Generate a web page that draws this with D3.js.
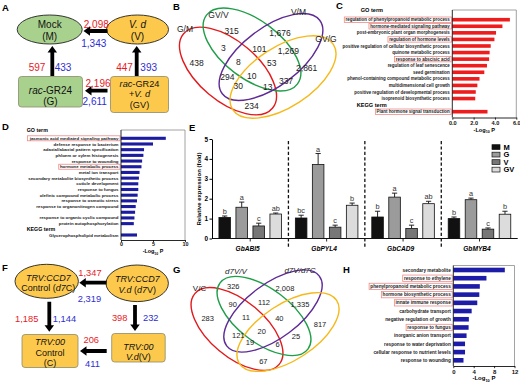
<!DOCTYPE html>
<html><head><meta charset="utf-8">
<script src="https://cdn.jsdelivr.net/npm/d3@7"></script>
<style>body{margin:0;background:#fff}svg{display:block}</style>
</head><body><svg id="c" width="520" height="382"></svg>
<script>
// ================= DATA =================
// Panel A: DEG counts (up = red, down = blue)
const aUp = [2098, 597, 447, 2196];     // V->M, G->M, GV->V, GV->G
const aDown = [1343, 433, 393, 2611];
// Panel F
const fUp = [1347, 1185, 398, 206];     // d7V->d7C, d7C->C, d7V->V, V->C
const fDown = [2319, 1144, 232, 411];
// Panel B Venn
const vennBSets = ["G/M", "GV/V", "V/M", "GV/G"];
const vennBCounts = [438, 315, 1676, 2861, 3, 101, 1269, 8, 53, 294, 10, 337, 30, 13, 234];
// Panel G Venn
const vennGSets = ["V/C", "d7V/V", "d7V/d7C", ""];
const vennGCounts = [283, 326, 2008, 817, 90, 112, 1335, 11, 40, 121, 20, 25, 19, 6, 67];
// Panel C GO / KEGG
const goC = ["regulation of phenylpropanoid metabolic process", "hormone-mediated signaling pathway",
  "post-embryonic plant organ morphogenesis", "regulation of hormone levels",
  "positive regulation of cellular biosynthetic process", "quinone metabolic process",
  "response to abscisic acid", "regulation of leaf senescence", "seed germination",
  "phenol-containing compound metabolic process", "multidimensional cell growth",
  "positive regulation of developmental process", "isoprenoid biosynthetic process"];
const goCValues = [5.4, 4.7, 4.1, 3.95, 3.6, 3.5, 3.45, 3.25, 3.0, 2.55, 2.35, 2.2, 2.15];
const goCBoxed = [0, 1, 3, 6];
const keggC = ["Plant hormone signal transduction"];
const keggCValues = [3.3];
const keggCBoxed = [0];
// Panel D GO / KEGG
const goD = ["jasmonic acid mediated signaling pathway", "defense response to bacterium",
  "adaxial/abaxial pattern specification", "phloem or xylem histogenesis", "response to wounding",
  "hormone metabolic process", "metal ion transport", "secondary metabolite biosynthetic process",
  "cuticle development", "response to fungus", "olefinic compound metabolic process",
  "response to osmotic stress", "response to organonitrogen compound", "",
  "response to organic cyclic compound", "protein autophosphorylation"];
const goDValues = [7.0, 5.0, 3.6, 3.5, 3.3, 3.2, 2.9, 2.8, 2.7, 2.7, 2.6, 2.5, 2.3, 2.2, 2.1, 2.0];
const goDBoxed = [0, 5];
const keggD = ["Glycerophospholipid metabolism"];
const keggDValues = [2.5];
// Panel H GO
const goH = ["secondary metabolite", "response to ethylene", "phenylpropanoid metabolic process",
  "hormone biosynthetic process", "innate immune response", "carbohydrate transport",
  "negative regulation of growth", "response to fungus", "inorganic anion transport",
  "response to water deprivation", "cellular response to nutrient levels", "response to wounding"];
const goHValues = [10.1, 6.5, 5.2, 5.1, 4.7, 3.6, 3.05, 3.0, 2.6, 2.3, 2.3, 2.0];
const goHBoxed = [1, 2, 3, 4, 7];
// Panel E qRT-PCR
const genes = ["GbABI5", "GbPYL4", "GbCAD9", "GbMYB4"];
const groups = ["M", "G", "V", "GV"];
const meanM = [1.06, 1.03, 1.08, 1.0];
const meanG = [1.57, 3.72, 2.08, 1.95];
const meanV = [0.63, 0.57, 0.50, 0.47];
const meanGV = [1.23, 1.67, 1.75, 1.22];
const errM = [0.07, 0.14, 0.29, 0.08];
const errG = [0.26, 0.55, 0.20, 0.08];
const errV = [0.14, 0.10, 0.17, 0.06];
const errGV = [0.05, 0.11, 0.12, 0.15];
const letM = ["b", "bc", "b", "b"];
const letG = ["a", "a", "a", "a"];
const letV = ["c", "c", "c", "c"];
const letGV = ["ab", "b", "ab", "b"];
const eTicks = [0, 1, 2, 3, 4, 5];

// ================= DRAWING =================
const FONT = "'Liberation Sans', Arial, Helvetica, sans-serif";
const RED = "#e8191f", BLUE = "#2d2dd2";
const svg = d3.select("#c").style("font-family", FONT);
svg.append("rect").attr("width", 520).attr("height", 382).attr("fill", "#fff");
const fmt = d3.format(",");

function rich(g, x, y, parts, o = {}) {
  const t = g.append("text").attr("x", x).attr("y", y)
    .attr("text-anchor", o.anchor || "middle").attr("font-size", o.fs || 10)
    .attr("fill", o.fill || "#111").attr("font-weight", o.weight || "normal");
  parts.forEach(p => {
    const s = t.append("tspan").text(p[0]);
    if (p[1]) s.attr("font-style", "italic");
  });
  return t;
}
function arrow(g, x1, y1, x2, y2, sw = 3.8, hw = 9.5, hl = 6.5) {
  const dx = x2 - x1, dy = y2 - y1, L = Math.hypot(dx, dy), ux = dx / L, uy = dy / L, px = -uy, py = ux;
  const bx = x2 - ux * hl, by = y2 - uy * hl;
  const pts = [[x1 + px * sw / 2, y1 + py * sw / 2], [bx + px * sw / 2, by + py * sw / 2],
    [bx + px * hw / 2, by + py * hw / 2], [x2, y2], [bx - px * hw / 2, by - py * hw / 2],
    [bx - px * sw / 2, by - py * sw / 2], [x1 - px * sw / 2, y1 - py * sw / 2]];
  g.append("path").attr("d", d3.line()(pts) + "Z").attr("fill", "#000");
}
function num(g, x, y, v, color, fs) {
  g.append("text").attr("x", x).attr("y", y).attr("text-anchor", "middle")
    .attr("font-size", fs).attr("fill", color).text(fmt(v));
}

// panel letters
[["A", 2, 11], ["B", 173, 10], ["C", 336, 9], ["D", 2, 130], ["E", 189, 131], ["F", 2, 271], ["G", 173, 273], ["H", 343, 273]]
  .forEach(d => svg.append("text").attr("x", d[1]).attr("y", d[2]).attr("font-size", 9.5)
    .attr("font-weight", "bold").text(d[0]));

// ---------- Panel A ----------
const GREEN_F = "#a9d18e", YEL_F = "#fdc94c";
{
  const g = svg.append("g");
  g.append("ellipse").attr("cx", 49.7).attr("cy", 29.5).attr("rx", 32.5).attr("ry", 14.5).attr("fill", GREEN_F).attr("stroke", "#222").attr("stroke-width", 0.9);
  g.append("ellipse").attr("cx", 137.5).attr("cy", 29.5).attr("rx", 31).attr("ry", 14.5).attr("fill", YEL_F).attr("stroke", "#222").attr("stroke-width", 0.9);
  g.append("rect").attr("x", 18.5).attr("y", 76.5).attr("width", 64).attr("height", 30.5).attr("rx", 3).attr("fill", GREEN_F).attr("stroke", "#8a8a6a").attr("stroke-width", 0.8);
  g.append("rect").attr("x", 110.5).attr("y", 76.5).attr("width", 58).attr("height", 36).attr("rx", 3).attr("fill", YEL_F).attr("stroke", "#8a8a6a").attr("stroke-width", 0.8);
  rich(g, 49.7, 28, [["Mock"]], { fs: 10 });
  rich(g, 49.7, 39.5, [["(M)"]], { fs: 10 });
  rich(g, 137.5, 28, [["V. d", 1]], { fs: 10 });
  rich(g, 137.5, 39.5, [["(V)"]], { fs: 10 });
  rich(g, 50.5, 93.5, [["rac", 1], ["-GR24"]], { fs: 10 });
  rich(g, 50.5, 104.5, [["(G)"]], { fs: 10 });
  rich(g, 139.5, 87.3, [["rac", 1], ["-GR24"]], { fs: 9.2 });
  rich(g, 139.5, 97, [["+"], ["V. d", 1]], { fs: 9.2 });
  rich(g, 139.5, 107.5, [["(GV)"]], { fs: 9.2 });
  arrow(g, 107.5, 31, 83.5, 31);
  arrow(g, 52.3, 76, 52.3, 46);
  arrow(g, 136.7, 76, 136.7, 46);
  arrow(g, 107.5, 90.7, 85, 90.7);
  num(g, 96.3, 28, aUp[0], RED, 10); num(g, 93.8, 46.5, aDown[0], BLUE, 10);
  num(g, 37, 70.5, aUp[1], RED, 10); num(g, 63, 70.5, aDown[1], BLUE, 10);
  num(g, 124.5, 70.5, aUp[2], RED, 10); num(g, 148.7, 70.5, aDown[2], BLUE, 10);
  num(g, 98, 87, aUp[3], RED, 10); num(g, 94.7, 104.5, aDown[3], BLUE, 10);
}

// ---------- Panel F ----------
{
  const g = svg.append("g");
  g.append("ellipse").attr("cx", 46.7).attr("cy", 281.3).attr("rx", 31.7).attr("ry", 17).attr("fill", YEL_F).attr("stroke", "#222").attr("stroke-width", 0.9);
  g.append("ellipse").attr("cx", 137.2).attr("cy", 283.3).attr("rx", 31.2).attr("ry", 18.3).attr("fill", YEL_F).attr("stroke", "#222").attr("stroke-width", 0.9);
  g.append("rect").attr("x", 22).attr("y", 334.5).attr("width", 56).attr("height", 33).attr("rx", 3).attr("fill", YEL_F).attr("stroke", "#8a8a6a").attr("stroke-width", 0.8);
  g.append("rect").attr("x", 111.7).attr("y", 333.5).attr("width", 53.5).attr("height", 28.5).attr("rx", 3).attr("fill", YEL_F).attr("stroke", "#8a8a6a").attr("stroke-width", 0.8);
  rich(g, 48.3, 280.5, [["TRV:CCD7", 1]], { fs: 9 });
  rich(g, 48.3, 291, [["Control ("], ["d7", 1], ["C)"]], { fs: 9 });
  rich(g, 137.3, 282, [["TRV:CCD7", 1]], { fs: 9 });
  rich(g, 137.3, 292.5, [["V.d", 1], [" ("], ["d7", 1], ["V)"]], { fs: 9 });
  rich(g, 50, 345, [["TRV:00", 1]], { fs: 9 });
  rich(g, 50, 355.5, [["Control"]], { fs: 9 });
  rich(g, 50, 365.5, [["(C)"]], { fs: 9 });
  rich(g, 138.3, 350, [["TRV:00", 1]], { fs: 9 });
  rich(g, 138.3, 359.5, [["V.d", 1], ["(V)"]], { fs: 9 });
  arrow(g, 106.5, 282.7, 79.3, 282.7);
  arrow(g, 49.3, 301.7, 49.3, 331.7);
  arrow(g, 135, 305, 135, 331);
  arrow(g, 106.7, 351, 80, 351);
  num(g, 90, 275.5, fUp[0], RED, 9.3); num(g, 89.5, 301.5, fDown[0], BLUE, 9.3);
  num(g, 26.7, 321.5, fUp[1], RED, 9.3); num(g, 64.5, 321.5, fDown[1], BLUE, 9.3);
  num(g, 119.7, 320.5, fUp[2], RED, 9.3); num(g, 150.8, 320.5, fDown[2], BLUE, 9.3);
  num(g, 91.3, 343, fUp[3], RED, 9.3); num(g, 92.5, 367, fDown[3], BLUE, 9.3);
}

// ---------- Venn diagrams ----------
const vennColors = ["#e3191c", "#1f9e48", "#5e2a96", "#f5b91a"];
function venn(g, ell, sets, setPos, counts, pos, fsNum, fsLab, italicLabels) {
  ell.forEach((e, i) => {
    g.append("ellipse").attr("cx", 0).attr("cy", 0).attr("rx", e[2]).attr("ry", e[3])
      .attr("transform", `translate(${e[0]},${e[1]}) rotate(${e[4]})`)
      .attr("fill", "none").attr("stroke", vennColors[i]).attr("stroke-width", 1.4);
  });
  sets.forEach((s, i) => {
    if (!s) return;
    const t = g.append("text").attr("x", setPos[i][0]).attr("y", setPos[i][1]).attr("text-anchor", "middle")
      .attr("font-size", fsLab).attr("fill", "#222").attr("dy", "0.35em").text(s);
    if (italicLabels && i > 0) t.attr("font-style", "italic");
  });
  counts.forEach((c, i) => {
    g.append("text").attr("x", pos[i][0]).attr("y", pos[i][1]).attr("dy", "0.35em")
      .attr("text-anchor", "middle").attr("font-size", fsNum).attr("fill", "#222").text(fmt(c));
  });
}
{
  const g = svg.append("g");
  const ell = [[228, 71, 58, 30, 40], [252, 49.5, 57, 29, 37], [271, 57, 61, 29, -37], [283, 77, 60, 30, -33]];
  const setPos = [[185, 29.5], [218.5, 15], [298.5, 12.5], [326, 39.5]];
  const pos = [[196.7, 63.3], [231.7, 30.7], [280, 33.3], [306.7, 68.3], [223.3, 48.3], [259.3, 49], [288.3, 50.7],
    [238.3, 61.7], [271.7, 62.7], [227.3, 77.3], [251.7, 75.7], [286, 80.7], [238.3, 86], [267.7, 87.3], [251.7, 106]];
  venn(g, ell, vennBSets, setPos, vennBCounts, pos, 8.5, 8.5, false);
}
{
  const g = svg.append("g");
  const ell = [[237, 329, 55, 28, 40], [264, 316, 55, 27, 37], [273, 311, 58, 27, -37], [288, 332, 58, 28, -33]];
  const setPos = [[199.5, 288], [236, 271], [300, 270], [0, 0]];
  const pos = [[207.7, 318.3], [233.3, 286.7], [285, 288.3], [320, 324.3], [232.7, 304.3], [264, 302.7], [300, 304.3],
    [246, 317.7], [279.3, 318.3], [238.3, 335], [261.7, 331], [296, 336.7], [250, 342.7], [277.7, 344.3], [263.3, 361.7]];
  venn(g, ell, vennGSets, setPos, vennGCounts, pos, 7.5, 8, true);
}

// ---------- horizontal bar charts ----------
function hbar(o) {
  const g = svg.append("g");
  const rows = [];
  o.labels.forEach((l, i) => rows.push({ label: l, v: o.values[i], box: o.boxed.includes(i) }));
  if (o.kegg) {
    rows.push({ header: "KEGG term" });
    o.kegg.forEach((l, i) => rows.push({ label: l, v: o.keggValues[i], box: o.keggBoxed.includes(i) }));
  }
  const x = d3.scaleLinear().domain([0, o.max]).range([o.x0, o.x1]);
  const y = d3.scaleLinear().domain([0, rows.length - 1]).range([o.yFirst, o.yLast]);
  g.append("path").attr("d", `M${o.x0},${o.yTop}H${x(o.max)}V${o.yBot}`).attr("fill", "none").attr("stroke", "#8c8c8c").attr("stroke-width", 0.8);
  rows.forEach((r, i) => {
    if (r.header) {
      g.append("text").attr("x", o.headX).attr("y", y(i) + 2).attr("font-size", o.headFs).attr("font-weight", "bold").text(r.header);
      return;
    }
    g.append("rect").attr("x", x(0)).attr("y", y(i) - o.barH / 2).attr("width", x(r.v) - x(0)).attr("height", o.barH).attr("fill", o.color);
    if (r.label) {
      const t = g.append("text").attr("x", o.x0 - 2.5).attr("y", y(i)).attr("dy", "0.35em")
        .attr("text-anchor", "end").attr("font-size", o.fs).attr("font-weight", "bold").attr("fill", "#222").text(r.label);
      if (r.box) {
        const b = t.node().getBBox();
        g.append("rect").attr("x", b.x - 1.2).attr("y", y(i) - o.boxH / 2).attr("width", b.width + 2.2).attr("height", o.boxH)
          .attr("fill", "none").attr("stroke", "#ef8a8a").attr("stroke-width", 0.8);
      }
    }
  });
  if (o.goHeader) g.append("text").attr("x", o.goX).attr("y", o.yTop + 2).attr("font-size", o.headFs).attr("font-weight", "bold").text("GO term");
  const ax = g.append("g").attr("transform", `translate(0,${o.yBot})`)
    .call(d3.axisBottom(x).tickValues(o.ticks).tickSize(2.2).tickSizeOuter(0).tickPadding(o.tickPad));
  ax.select(".domain").attr("stroke", "#111").attr("stroke-width", 0.9);
  ax.selectAll("line").attr("stroke-width", 0.8);
  ax.selectAll("text").attr("font-size", o.tickFs).attr("font-weight", "bold").attr("font-family", FONT).attr("fill", "#111");
  g.append("line").attr("x1", o.x0).attr("x2", o.x0).attr("y1", o.yTop).attr("y2", o.yBot).attr("stroke", "#111").attr("stroke-width", 0.9);
  const tt = g.append("text").attr("x", (o.x0 + x(o.max)) / 2).attr("y", o.titleY).attr("text-anchor", "middle")
    .attr("font-size", o.tickFs).attr("font-weight", "bold");
  tt.append("tspan").text("-Log");
  tt.append("tspan").text("10").attr("font-size", o.tickFs * 0.65).attr("dy", 1.5);
  tt.append("tspan").text(" P").attr("dy", -1.5);
}
hbar({ labels: goC, values: goCValues, boxed: goCBoxed, kegg: keggC, keggValues: keggCValues, keggBoxed: keggCBoxed,
  x0: 452.3, x1: 516.3, max: 6, ticks: [0, 2, 4, 6], yTop: 10, yBot: 117.5, yFirst: 19.7, yLast: 111.7,
  color: "#ee1c1c", barH: 3.6, boxH: 5.4, fs: 4.45, headFs: 5.6, headX: 356.7, goHeader: true, goX: 360.7, tickFs: 5.6, tickPad: 1.2, titleY: 131.5 });
hbar({ labels: goD, values: goDValues, boxed: goDBoxed, kegg: keggD, keggValues: keggDValues, keggBoxed: [],
  x0: 121, x1: 185, max: 10, ticks: [0, 5, 10], yTop: 130, yBot: 240, yFirst: 138.3, yLast: 235,
  color: "#1c1ca0", barH: 3.1, boxH: 5, fs: 4.4, headFs: 5.3, headX: 26.7, goHeader: true, goX: 26.7, tickFs: 5.4, tickPad: 0.2, titleY: 253 });
hbar({ labels: goH, values: goHValues, boxed: goHBoxed,
  x0: 453.3, x1: 514.5, max: 12, ticks: [0, 4, 8, 12], yTop: 265.5, yBot: 366, yFirst: 270, yLast: 360.3,
  color: "#1c1ca8", barH: 4.6, boxH: 6.3, fs: 4.7, headFs: 5.5, tickFs: 6, tickPad: 1.2, titleY: 380 });

// ---------- Panel E ----------
{
  const g = svg.append("g");
  const means = [meanM, meanG, meanV, meanGV], errs = [errM, errG, errV, errGV], lets = [letM, letG, letV, letGV];
  const fills = ["#111111", "#9b9b9b", "#777777", "#dcdcdc"];
  const x = d3.scaleBand().domain(genes).range([212, 517.7]).padding(0);
  const xi = d3.scaleBand().domain(groups).range([-34, 34]).paddingInner(0.32).paddingOuter(0.16);
  const y = d3.scaleLinear().domain([0, 5]).range([238.5, 139]);
  genes.slice(1).forEach(gn => g.append("line").attr("x1", x(gn)).attr("x2", x(gn)).attr("y1", 141).attr("y2", 249)
    .attr("stroke", "#111").attr("stroke-width", 1.3).attr("stroke-dasharray", "3.2,2.2"));
  genes.forEach((gn, gi) => {
    const cx = x(gn) + x.bandwidth() / 2;
    groups.forEach((s, si) => {
      const bx = cx + xi(s), bw = xi.bandwidth(), m = means[si][gi], e = errs[si][gi];
      const mid = bx + bw / 2;
      g.append("line").attr("x1", mid).attr("x2", mid).attr("y1", y(m)).attr("y2", y(m + e)).attr("stroke", "#111").attr("stroke-width", 0.9);
      g.append("line").attr("x1", mid - 2.6).attr("x2", mid + 2.6).attr("y1", y(m + e)).attr("y2", y(m + e)).attr("stroke", "#111").attr("stroke-width", 0.9);
      g.append("rect").attr("x", bx).attr("y", y(m)).attr("width", bw).attr("height", y(0) - y(m))
        .attr("fill", fills[si]).attr("stroke", "#111").attr("stroke-width", 0.8);
      g.append("text").attr("x", mid).attr("y", y(m + e) - 2).attr("text-anchor", "middle").attr("font-size", 7.3)
        .attr("fill", "#333").text(lets[si][gi]);
    });
    g.append("line").attr("x1", cx).attr("x2", cx).attr("y1", y(0)).attr("y2", y(0) + 3).attr("stroke", "#111").attr("stroke-width", 0.9);
    g.append("text").attr("x", cx - 2.5).attr("y", 250.5).attr("text-anchor", "middle").attr("font-size", 6.6)
      .attr("font-weight", "bold").attr("font-style", "italic").text(gn);
  });
  g.append("line").attr("x1", 212).attr("x2", 517.7).attr("y1", y(0)).attr("y2", y(0)).attr("stroke", "#111").attr("stroke-width", 1);
  const ay = g.append("g").attr("transform", "translate(212,0)").call(d3.axisLeft(y).tickValues(eTicks).tickFormat(d3.format("d")).tickSize(2.5).tickSizeOuter(0).tickPadding(1.5));
  ay.select(".domain").attr("stroke-width", 1);
  ay.selectAll("text").attr("font-size", 6.4).attr("font-weight", "bold").attr("font-family", FONT);
  g.append("text").attr("transform", "translate(201,189) rotate(-90)").attr("text-anchor", "middle")
    .attr("font-size", 6).attr("font-weight", "bold").text("Relative expression (fold)");
  groups.forEach((s, i) => {
    const ly = 147 + i * 7.5;
    g.append("rect").attr("x", 492).attr("y", ly - 2.3).attr("width", 8).attr("height", 4.8).attr("fill", fills[i]).attr("stroke", "#111").attr("stroke-width", 0.7);
    g.append("text").attr("x", 503.5).attr("y", ly).attr("dy", "0.35em").attr("font-size", 7.5).attr("font-weight", "bold").text(s);
  });
}
</script></body></html>
